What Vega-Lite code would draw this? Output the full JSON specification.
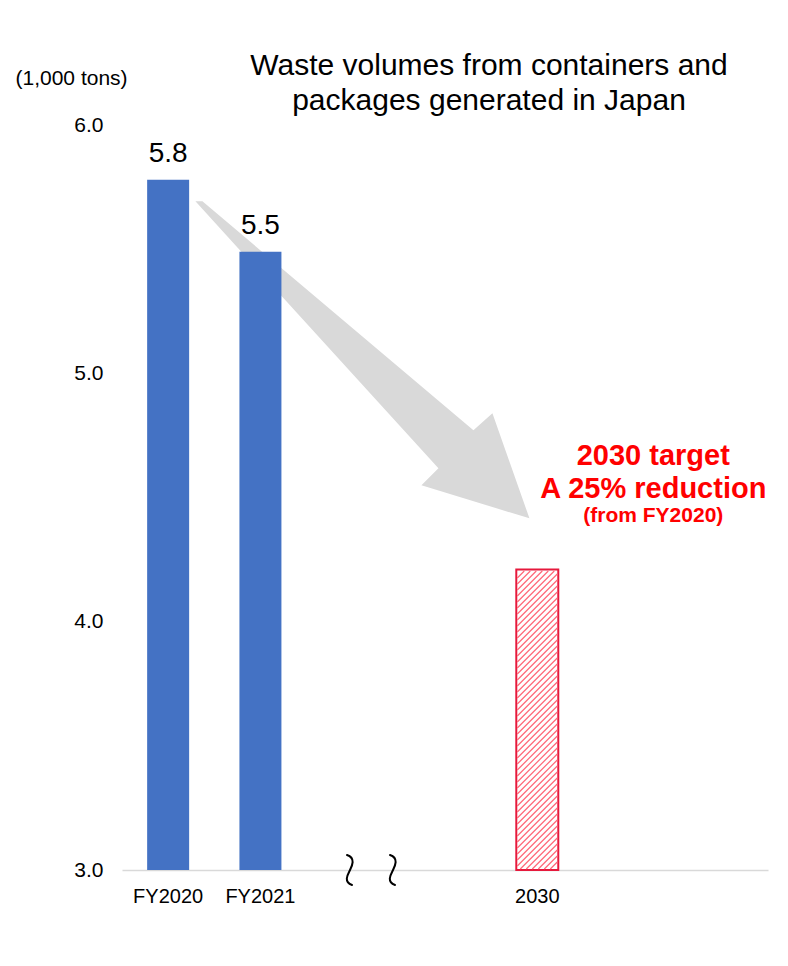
{
  "$schema": "https://vega.github.io/schema/vega-lite/v6.json",
  "width": 646,
  "height": 745,
  "autosize": "none",
  "padding": {"left": 122, "top": 125, "right": 20, "bottom": 96},
  "background": "white",
  "config": {"font": "Liberation Sans", "view": {"stroke": null}},
  "title": {
    "text": ["Waste volumes from containers and", "packages generated in Japan"],
    "fontSize": 30,
    "fontWeight": "normal",
    "color": "black",
    "anchor": "middle",
    "frame": "group",
    "dx": 44,
    "dy": 79,
    "offset": 0,
    "lineHeight": 35,
    "baseline": "bottom"
  },
  "data": {
    "values": [
      {"year": "FY2020", "value": 5.78, "type": "actual"},
      {"year": "FY2021", "value": 5.49, "type": "actual"},
      {"year": "2030", "value": 4.21, "type": "target"}
    ]
  },
  "encoding": {
    "x": {
      "field": "year",
      "type": "nominal",
      "sort": null,
      "scale": {"domain": ["FY2020", "FY2021", "g1", "g2", "2030", "g3", "g4"], "paddingInner": 0.545, "paddingOuter": 0.2725},
      "axis": {
        "title": null,
        "labelAngle": 0,
        "labelExpr": "indexof(['FY2020','FY2021','2030'], datum.value) >= 0 ? datum.value : ''",
        "ticks": false,
        "tickSize": 0,
        "labelPadding": 16,
        "labelFontSize": 20,
        "labelColor": "black",
        "domainColor": "#d9d9d9",
        "domainWidth": 1.5,
        "grid": false
      }
    },
    "y": {
      "field": "value",
      "type": "quantitative",
      "scale": {"domain": [3, 6], "zero": false, "nice": false},
      "axis": {
        "title": "(1,000 tons)",
        "values": [3, 4, 5, 6],
        "format": ".1f",
        "domain": false,
        "ticks": false,
        "tickSize": 0,
        "grid": false,
        "labelPadding": 19,
        "labelFontSize": 21,
        "labelColor": "black",
        "titleAngle": 0,
        "titleAlign": "left",
        "titleBaseline": "alphabetic",
        "titleX": -107,
        "titleY": -41,
        "titleFontSize": 21,
        "titleFontWeight": "normal",
        "titleColor": "black"
      }
    }
  },
  "layer": [
    {
      "transform": [{"filter": "datum.year == 'FY2021'"}],
      "mark": {"type": "point", "shape": "M-65 -172L-58 -172L213 57L232 40L269 145L161 112L178 95Z", "size": 4, "filled": true, "fill": "#d9d9d9", "strokeWidth": 0, "opacity": 1},
      "encoding": {"x": {"datum": "FY2021", "type": "nominal"}, "y": {"datum": 5, "type": "quantitative"}}
    },
    {
      "transform": [{"filter": "datum.type == 'actual'"}],
      "mark": {"type": "bar", "color": "#4472c4"},
      "encoding": {"y2": {"datum": 3}}
    },
    {
      "transform": [{"filter": "datum.type == 'target'"}],
      "mark": {"type": "bar", "fill": "white", "stroke": "#e6193c", "strokeWidth": 2},
      "encoding": {"y2": {"datum": 3}}
    },
    {
      "transform": [{"filter": "datum.type == 'target'"}],
      "mark": {"type": "point", "shape": "M13 -1L20 -8M7 -1L20 -14M1 -1L20 -20M-5 -1L20 -26M-11 -1L20 -32M-17 -1L20 -38M-20 -4L20 -44M-20 -10L20 -50M-20 -16L20 -56M-20 -22L20 -62M-20 -28L20 -68M-20 -34L20 -74M-20 -40L20 -80M-20 -46L20 -86M-20 -52L20 -92M-20 -58L20 -98M-20 -64L20 -104M-20 -70L20 -110M-20 -76L20 -116M-20 -82L20 -122M-20 -88L20 -128M-20 -94L20 -134M-20 -100L20 -140M-20 -106L20 -146M-20 -112L20 -152M-20 -118L20 -158M-20 -124L20 -164M-20 -130L20 -170M-20 -136L20 -176M-20 -142L20 -182M-20 -148L20 -188M-20 -154L20 -194M-20 -160L20 -200M-20 -166L20 -206M-20 -172L20 -212M-20 -178L20 -218M-20 -184L20 -224M-20 -190L20 -230M-20 -196L20 -236M-20 -202L20 -242M-20 -208L20 -248M-20 -214L20 -254M-20 -220L20 -260M-20 -226L20 -266M-20 -232L20 -272M-20 -238L20 -278M-20 -244L20 -284M-20 -250L20 -290M-20 -256L20 -296M-20 -262L17 -299M-20 -268L11 -299M-20 -274L5 -299M-20 -280L-1 -299M-20 -286L-7 -299M-20 -292L-13 -299", "size": 4, "filled": false, "stroke": "#ff6878", "strokeWidth": 1.2, "opacity": 1},
      "encoding": {"y": {"datum": 3, "type": "quantitative"}}
    },
    {
      "transform": [{"filter": "datum.year == 'FY2021'"}],
      "mark": {"type": "point", "shape": "M-5.7 -15C3.3 -12 -0.7 -4 -2.7 0C-4.7 4 -9.7 12 -0.7 15M37.3 -15C46.3 -12 42.3 -4 40.3 0C38.3 4 33.3 12 42.3 15", "size": 4, "filled": false, "stroke": "black", "strokeWidth": 2, "strokeCap": "round", "opacity": 1},
      "encoding": {"x": {"datum": "g1", "type": "nominal"}, "y": {"datum": 3, "type": "quantitative"}}
    },
    {
      "transform": [{"filter": "datum.type == 'actual'"}],
      "mark": {"type": "text", "dy": -18, "fontSize": 28, "baseline": "alphabetic", "align": "center", "color": "black"},
      "encoding": {"text": {"field": "value", "type": "quantitative", "format": ".1f"}}
    },
    {
      "transform": [{"filter": "datum.year == '2030'"}],
      "mark": {"type": "text", "text": "2030 target", "dx": 116, "fontSize": 29, "fontWeight": "bold", "color": "#ff0000", "align": "center", "baseline": "alphabetic"},
      "encoding": {"y": {"datum": 4.631, "type": "quantitative"}}
    },
    {
      "transform": [{"filter": "datum.year == '2030'"}],
      "mark": {"type": "text", "text": "A 25% reduction", "dx": 116, "fontSize": 29, "fontWeight": "bold", "color": "#ff0000", "align": "center", "baseline": "alphabetic"},
      "encoding": {"y": {"datum": 4.498, "type": "quantitative"}}
    },
    {
      "transform": [{"filter": "datum.year == '2030'"}],
      "mark": {"type": "text", "text": "(from FY2020)", "dx": 116, "fontSize": 21, "fontWeight": "bold", "color": "#ff0000", "align": "center", "baseline": "alphabetic"},
      "encoding": {"y": {"datum": 4.401, "type": "quantitative"}}
    }
  ]
}
